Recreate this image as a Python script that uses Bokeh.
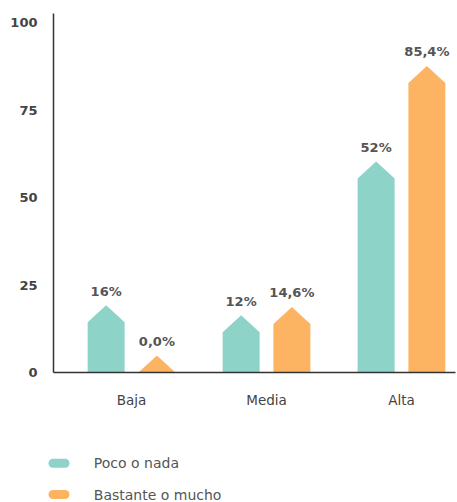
from bokeh.plotting import figure
from bokeh.models import Range1d, FixedTicker, ColumnDataSource
from bokeh.layouts import column
from bokeh.core.properties import value
from bokeh.embed import file_html
from bokeh.resources import INLINE

# ---- data ----
categories = ["Baja", "Media", "Alta"]
series_names = ["Poco o nada", "Bastante o mucho"]
poco_nada = [14.4, 11.5, 55.5]          # bar heights
bastante_mucho = [0.0, 13.9, 82.8]
poco_labels = ["16%", "12%", "52%"]
bastante_labels = ["0,0%", "14,6%", "85,4%"]
y_ticks = [0, 25, 50, 75, 100]

colors = ["#8dd3c7", "#fdb462"]
FONT = "DejaVu Sans"
TIP = 4.85          # arrow tip height (data units)
OFFSET = 0.188      # dodge from category centre
HALF_W = 0.137      # half bar width

p = figure(frame_width=402, frame_height=359, min_border_left=53, min_border_right=2,
           min_border_top=13, min_border_bottom=46,
           x_range=Range1d(-0.578, 2.400), y_range=Range1d(0, 102.66),
           output_backend="svg", toolbar_location=None)
p.outline_line_color = None
p.grid.visible = False
p.background_fill_color = "white"
p.border_fill_color = "white"

for ax in (p.xaxis[0], p.yaxis[0]):
    ax.major_tick_line_color = None
    ax.minor_tick_line_color = None
    ax.major_tick_out = 0
    ax.major_tick_in = 0
    ax.axis_line_color = "#333333"
    ax.axis_line_width = 1.5

p.yaxis.ticker = FixedTicker(ticks=y_ticks)
p.yaxis.major_label_standoff = 16
p.yaxis.major_label_text_font = FONT
p.yaxis.major_label_text_font_style = "bold"
p.yaxis.major_label_text_font_size = "13px"
p.yaxis.major_label_text_color = "#444444"

p.xaxis.ticker = FixedTicker(ticks=list(range(len(categories))))
p.xaxis.major_label_overrides = {i: c for i, c in enumerate(categories)}
p.xaxis.major_label_standoff = 19
p.xaxis.major_label_text_font = FONT
p.xaxis.major_label_text_font_size = "13.5px"
p.xaxis.major_label_text_color = "#444444"

for vals, labels, color, off in ((poco_nada, poco_labels, colors[0], -OFFSET),
                                 (bastante_mucho, bastante_labels, colors[1], OFFSET)):
    xs, ys, lx, ly = [], [], [], []
    for i, v in enumerate(vals):
        xc = i + off
        l, r = xc - HALF_W, xc + HALF_W
        xs.append([l, l, xc, r, r])
        ys.append([0, v, v + TIP, v, 0])
        lx.append(xc)
        ly.append(v + TIP)
    p.patches(xs, ys, fill_color=color, line_color=None)
    src = ColumnDataSource(dict(x=lx, y=ly, t=labels))
    p.text("x", "y", text="t", source=src, text_align="center", text_baseline="middle",
           y_offset=-14, text_font=value(FONT), text_font_style="bold",
           text_font_size="13px", text_color="#555555")

# ---- legend panel (pixel coordinates) ----
probe = figure(width=10, height=10)
can_unalign = "frame_align" in probe.properties()

if can_unalign:
    lg = figure(frame_width=457, frame_height=84, min_border_left=0, min_border_right=0,
                min_border_top=0, min_border_bottom=0,
                x_range=Range1d(0, 457), y_range=Range1d(84, 0),
                x_axis_location=None, y_axis_location=None,
                output_backend="svg", toolbar_location=None)
    lg.frame_align = False
    pill_x0, pill_x1 = 52.5, 64.5
else:
    lg = figure(frame_width=402, frame_height=84, min_border_left=53, min_border_right=2,
                min_border_top=0, min_border_bottom=0,
                x_range=Range1d(53, 455), y_range=Range1d(84, 0),
                x_axis_location=None, y_axis_location=None,
                output_backend="svg", toolbar_location=None)
    pill_x0, pill_x1 = 58.0, 66.0
lg.outline_line_color = None
lg.grid.visible = False
item_y = [44.7, 76.0]
lg.segment(x0=[pill_x0] * 2, y0=item_y, x1=[pill_x1] * 2, y1=item_y, line_color=colors,
           line_width=9, line_cap="round")
lg.text(x=[93.3] * 2, y=item_y, text=series_names, text_align="left", text_baseline="middle",
        text_font=value(FONT), text_font_size="14px", text_color="#555555")

layout = column(p, lg, spacing=0)
open("out.html", "w").write(file_html(layout, INLINE))
